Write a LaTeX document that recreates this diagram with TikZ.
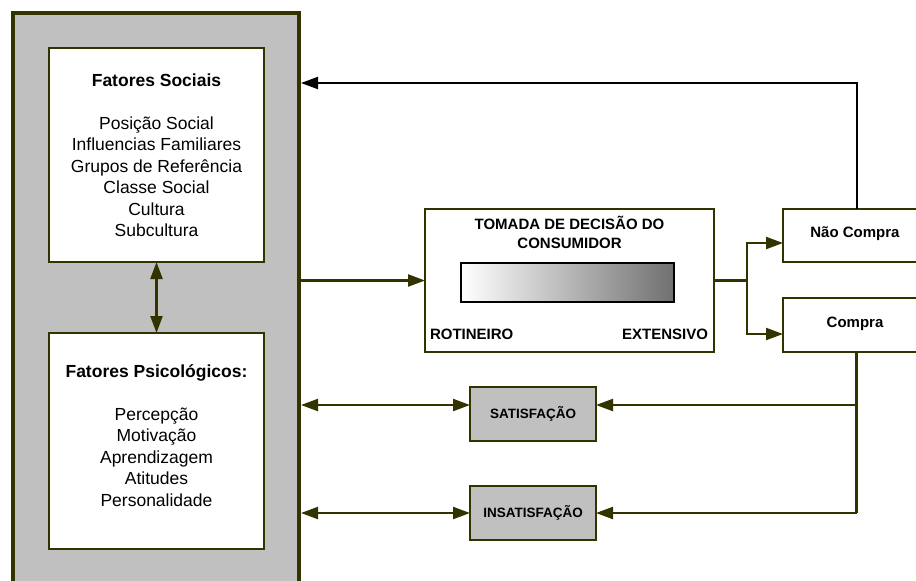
\documentclass[tikz,border=0pt]{standalone}
\usepackage{fontspec}
\setmainfont{Liberation Sans}
\usetikzlibrary{arrows.meta,calc}
\definecolor{frameol}{HTML}{333300}
\definecolor{panel}{HTML}{C0C0C0}
\definecolor{barend}{HTML}{707070}

\begin{document}
\begin{tikzpicture}[x=1pt,y=-1pt,
  >={Triangle[length=17pt,width=12pt]},
  every node/.style={inner sep=0pt, outer sep=0pt},
  framebox/.style={draw=frameol, line width=4pt, fill=panel, anchor=north west},
  factorbox/.style={draw=frameol, line width=1.2pt, fill=white, anchor=north west},
  stagebox/.style={draw=frameol, line width=2pt, fill=white, anchor=north west},
  outcomebox/.style={draw=frameol, line width=2pt, fill=panel, anchor=north west,
    font=\fontsize{13.5}{16}\selectfont\bfseries},
  listtext/.style={align=center, font=\fontsize{17.5}{21.5}\selectfont},
  smallbold/.style={font=\fontsize{15}{19}\selectfont\bfseries},
  conn/.style={draw=frameol, line width=2.2pt, color=frameol},
  feedback/.style={draw=black, line width=2pt}]

\useasboundingbox (0,0) rectangle (916,581);
\clip (0,0) rectangle (916,581);

% outer panel holding the two factor groups
\node[framebox, minimum width=286pt, minimum height=600pt] (outer) at (13,13) {};

% social factors
\node[factorbox, minimum width=215pt, minimum height=214pt] (soc) at (49,48) {};
\node[listtext] (soctxt) at (soc.center)
  {\textbf{Fatores Sociais}\\[21.5pt]
   Posição Social\\ Influencias Familiares\\ Grupos de Referência\\
   Classe Social\\ Cultura\\ Subcultura};

% psychological factors
\node[factorbox, minimum width=215pt, minimum height=216pt] (psi) at (49,333) {};
\node[listtext] (psitxt) at ($(psi.center)+(0,-5.5)$)
  {\textbf{Fatores Psicológicos:}\\[21.5pt]
   Percepção\\ Motivação\\ Aprendizagem\\ Atitudes\\ Personalidade};

% decision stage
\node[stagebox, minimum width=289pt, minimum height=143pt] (dec) at (425,209) {};
\node[smallbold, anchor=base] (dect1) at (569.5,229.4) {TOMADA DE DECISÃO DO};
\node[smallbold, anchor=base] (dect2) at (569.5,248.4) {CONSUMIDOR};
\shade[left color=white, right color=barend, draw=black, line width=2.5pt]
  (461,263) rectangle (674,302);
\node[smallbold, anchor=base west] (rot) at (430,339.4) {ROTINEIRO};
\node[smallbold, anchor=base east] (ext) at (708,339.4) {EXTENSIVO};

% purchase outcome
\node[stagebox, minimum width=147pt, minimum height=53pt] (nc) at (783,209) {};
\node[smallbold] (nctxt) at (855,234) {Não Compra};
\node[stagebox, minimum width=147pt, minimum height=54pt] (cp) at (783,298) {};
\node[smallbold] (cptxt) at (855,324) {Compra};

% post-purchase evaluation
\node[outcomebox, minimum width=126pt, minimum height=54pt] (sat) at (470,387) {SATISFAÇÃO};
\node[outcomebox, minimum width=126pt, minimum height=54pt] (insat) at (470,486) {INSATISFAÇÃO};

% connectors
\draw[conn, <->] (soc.south) -- (psi.north);
\draw[conn, ->] (outer.east |- dec.west) -- (dec.west);

\coordinate (split) at ($(dec.east)+(33,0)$);
\coordinate (ncin) at ($(nc.west)+(0,7.5)$);
\coordinate (cpin) at ($(cp.west)+(0,9)$);
\draw[conn] (dec.east) -- (split);
\draw[conn, ->] (split) |- (ncin);
\draw[conn, ->] (split) |- (cpin);

\coordinate (fbturn) at (856.5,83);
\draw[feedback, ->] (nc.north) -- (nc.north |- fbturn) -- ([xshift=2pt]outer.east |- fbturn);

\coordinate (satin) at ($(sat.east)+(0,-9)$);
\coordinate (satout) at ($(sat.west)+(0,-9)$);
\draw[conn] (cp.south) -- (cp.south |- insat.east);
\draw[conn, ->] (cp.south |- satin) -- (satin);
\draw[conn, ->] (cp.south |- insat.east) -- (insat.east);
\draw[conn, <->] ([xshift=2pt]outer.east |- satout) -- (satout);
\draw[conn, <->] ([xshift=2pt]outer.east |- insat.west) -- (insat.west);
\end{tikzpicture}
\end{document}
